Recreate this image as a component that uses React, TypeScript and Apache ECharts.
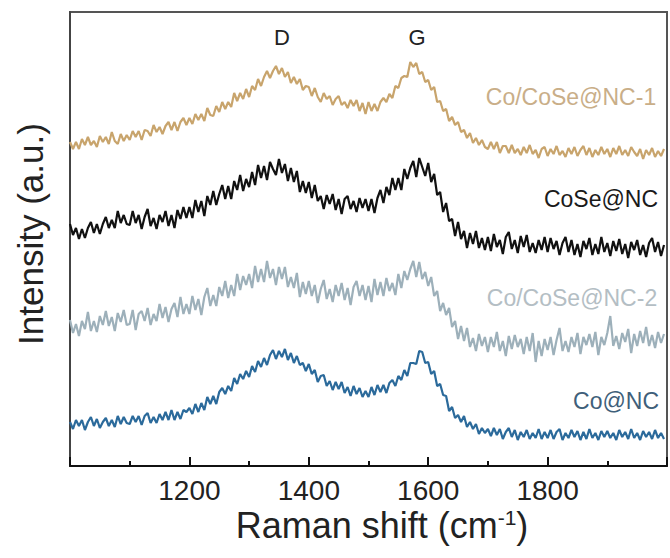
import React, { useEffect, useRef } from "react";
import * as echarts from "echarts";

// Raman shift sampling grid (cm-1)
const SHIFT_START = 1000;
const SHIFT_STEP = 5;
const xTickLabels = [1200, 1400, 1600, 1800];

// Offset intensities (a.u.), one value per 5 cm-1 from 1000 to 1995
const coCoSeNC1 = [
  324,317,324,317,327,321,329,321,325,319,330,324,329,322,334,325,322,332,325,331,
  326,335,329,335,326,336,335,330,341,334,339,332,340,344,336,344,335,344,348,341,
  348,342,352,346,352,345,358,351,350,360,354,364,357,364,359,373,365,373,367,377,
  369,380,376,387,380,389,395,388,395,400,392,398,389,394,383,389,382,387,376,380,
  379,370,378,369,364,373,367,370,361,367,370,361,364,358,366,360,366,355,363,352,
  364,355,362,355,364,368,364,372,368,380,378,388,390,389,404,399,403,392,394,384,
  386,376,379,364,365,355,357,345,349,341,344,334,336,328,333,323,328,321,326,319,
  317,324,317,324,313,320,320,313,321,313,317,311,319,313,321,312,316,308,317,319,
  310,317,312,320,311,315,309,318,312,319,310,316,320,311,318,309,316,311,319,312,
  317,309,318,312,320,311,316,310,319,314,310,317,307,316,311,318,309,315,310,317,
];

const coSeNC = [
  242,231,238,227,237,228,238,244,233,242,232,242,249,238,246,238,255,243,251,242,
  241,255,243,251,237,249,257,240,248,237,251,244,255,240,251,238,256,247,259,248,
  259,248,266,254,265,250,270,261,275,261,272,281,267,280,267,285,276,291,275,287,
  279,294,281,301,288,300,286,304,297,291,307,293,302,285,298,284,295,274,285,273,
  284,268,281,265,270,257,271,262,272,256,267,252,267,270,257,265,254,268,258,267,
  255,267,253,268,276,263,279,271,288,276,288,276,297,287,298,305,289,308,299,290,
  303,284,292,271,274,254,263,245,247,230,244,227,235,218,233,222,235,218,228,216,
  229,215,232,219,226,212,229,234,217,226,213,230,219,231,214,223,213,226,216,229,
  214,228,217,225,211,223,229,214,226,211,222,209,225,217,228,211,222,212,229,214,
  223,210,225,215,227,212,222,208,224,216,226,211,221,209,223,228,214,224,210,221,
];

const coCoSeNC2 = [
  146,133,142,130,145,137,154,135,145,134,150,141,155,140,149,135,153,144,156,141,
  142,156,136,152,155,145,158,141,152,145,162,148,159,144,157,163,149,169,152,162,
  152,170,156,167,151,169,178,160,171,160,179,170,185,168,181,170,192,176,190,181,
  192,178,200,184,197,184,205,188,197,181,199,187,199,179,189,178,193,169,184,172,
  185,170,181,163,177,186,167,177,164,181,170,183,166,178,161,179,185,170,181,166,
  180,164,187,171,184,170,188,175,183,171,192,178,195,186,197,205,189,204,187,194,
  180,189,170,175,155,163,151,158,139,145,127,140,125,138,119,128,115,132,120,129,
  114,129,119,134,115,125,110,130,117,131,119,127,112,129,115,133,104,125,110,127,
  116,129,111,126,138,115,125,114,129,119,133,112,129,121,132,119,134,111,129,121,
  133,150,120,130,117,133,124,137,113,132,120,135,123,139,120,131,118,134,123,132,
];

const coNC = [
  44,37,46,40,46,36,44,49,40,47,38,44,48,40,46,39,50,42,49,43,
  42,50,44,50,41,50,53,43,49,43,52,46,54,46,56,46,54,47,56,54,
  58,52,62,54,63,56,69,62,70,62,74,78,72,80,75,88,82,92,87,95,
  89,100,94,105,99,108,101,111,116,107,115,109,117,106,113,103,110,101,103,95,
  102,92,96,84,90,91,80,85,76,84,77,84,73,79,70,80,72,78,69,75,
  69,79,71,81,74,81,73,83,86,80,90,86,96,90,103,103,102,115,114,103,
  104,92,95,80,82,71,70,55,59,48,51,44,50,39,44,37,42,32,38,33,
  37,30,38,31,37,27,34,38,29,36,26,34,29,36,27,33,28,37,27,34,
  28,36,27,34,37,26,33,28,36,29,35,26,34,27,37,28,33,26,35,29,
  35,28,33,26,36,29,34,27,37,28,33,26,35,29,34,27,36,28,33,27,
];

const seriesNames = ["Co/CoSe@NC-1", "CoSe@NC", "Co/CoSe@NC-2", "Co@NC"];
const seriesValues = [coCoSeNC1, coSeNC, coCoSeNC2, coNC];
const lineColors = ["#C8A46C", "#111111", "#9DB0BA", "#2B6A9B"];
const labelColors = ["#C9AE88", "#1A1A1A", "#B4BEC4", "#3F5F7A"];
const labelPos = [
  [571, 97],
  [601, 199],
  [572, 298],
  [616, 401],
];
const peakLabels = [
  { text: "D", x: 282, y: 37 },
  { text: "G", x: 417, y: 37 },
];

const FONT = "Liberation Sans, Arial, Helvetica, sans-serif";

function toPairs(vals: number[]) {
  return vals.map((v, i) => [SHIFT_START + i * SHIFT_STEP, v]);
}

export default function App() {
  const ref = useRef<HTMLDivElement>(null);

  useEffect(() => {
    if (!ref.current) return;
    const chart = echarts.init(ref.current, undefined, { renderer: "svg" });

    const graphics: any[] = [];
    seriesNames.forEach((name, i) => {
      graphics.push({
        type: "text",
        x: labelPos[i][0],
        y: labelPos[i][1],
        style: {
          text: name,
          fill: labelColors[i],
          font: `23px ${FONT}`,
          align: "center",
          verticalAlign: "middle",
        },
      });
    });
    peakLabels.forEach((p) => {
      graphics.push({
        type: "text",
        x: p.x,
        y: p.y,
        style: {
          text: p.text,
          fill: "#222",
          font: `22px ${FONT}`,
          align: "center",
          verticalAlign: "middle",
        },
      });
    });
    graphics.push({
      type: "text",
      x: 382,
      y: 525,
      style: {
        text: "Raman shift (cm{sup|-1})",
        fill: "#222",
        font: `36px ${FONT}`,
        align: "center",
        verticalAlign: "middle",
        rich: {
          sup: {
            fontSize: 21,
            fontFamily: FONT,
            verticalAlign: "top",
            fill: "#222",
          },
        },
      },
    });
    graphics.push({
      type: "text",
      x: 30,
      y: 234,
      rotation: Math.PI / 2,
      style: {
        text: "Intensity (a.u.)",
        fill: "#222",
        font: `35px ${FONT}`,
        align: "center",
        verticalAlign: "middle",
      },
    });

    chart.setOption({
      animation: false,
      backgroundColor: "#ffffff",
      grid: {
        left: 70,
        top: 12,
        width: 605,
        height: 454,
        show: true,
        borderColor: "#555",
        borderWidth: 2,
      },
      xAxis: {
        type: "value",
        min: 1000,
        max: 2000,
        interval: 200,
        axisLine: { show: true, lineStyle: { color: "#111", width: 2 } },
        axisTick: { show: true, inside: true, length: 9, lineStyle: { color: "#111", width: 2 } },
        minorTick: { show: true, splitNumber: 2, length: 5, lineStyle: { color: "#111", width: 2 } },
        splitLine: { show: false },
        axisLabel: {
          margin: 10,
          fontSize: 28,
          fontFamily: FONT,
          color: "#222",
          formatter: (v: number) => (xTickLabels.includes(v) ? String(v) : ""),
        },
      },
      yAxis: {
        type: "value",
        min: 0,
        max: 454,
        axisLine: { show: true, lineStyle: { color: "#444", width: 2 } },
        axisTick: { show: false },
        axisLabel: { show: false },
        splitLine: { show: false },
      },
      series: seriesNames.map((name, i) => ({
        name,
        type: "line",
        data: toPairs(seriesValues[i]),
        showSymbol: false,
        symbol: "none",
        lineStyle: { color: lineColors[i], width: 2.2 },
        silent: true,
      })),
      graphic: graphics,
    });

    return () => chart.dispose();
  }, []);

  return (
    <div
      ref={ref}
      style={{ position: "fixed", left: 0, top: 0, width: 670, height: 558, background: "#fff" }}
    />
  );
}
